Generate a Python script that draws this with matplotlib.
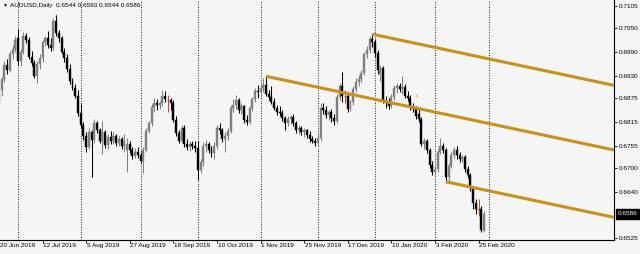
import numpy as np
import pandas as pd
import matplotlib
matplotlib.use('Agg')
import matplotlib.pyplot as plt
from matplotlib.patches import Rectangle

plt.rcParams['font.family'] = ['Liberation Sans', 'DejaVu Sans']

symbol = 'AUDUSD,Daily'
first_day = '2019-06-20'
closed_days = ['2019-12-25', '2020-01-01']

# daily OHLC, one value per trading day from 20 Jun 2019 to 27 Feb 2020
opens = [
    0.6855, 0.6895, 0.6922, 0.6958, 0.6945, 0.6985, 0.6998, 0.7025, 0.6968, 0.6990,
    0.7030, 0.7020, 0.6978, 0.6962, 0.6930, 0.6960, 0.6975, 0.7015, 0.7025, 0.7008,
    0.7000, 0.7068, 0.7038, 0.7025, 0.6990, 0.6975, 0.6948, 0.6918, 0.6900, 0.6880,
    0.6838, 0.6808, 0.6780, 0.6752, 0.6790, 0.6770, 0.6812, 0.6795, 0.6768, 0.6790,
    0.6758, 0.6778, 0.6768, 0.6780, 0.6762, 0.6772, 0.6755, 0.6745, 0.6760, 0.6745,
    0.6730, 0.6740, 0.6732, 0.6718, 0.6745, 0.6792, 0.6812, 0.6852, 0.6862, 0.6858,
    0.6862, 0.6880, 0.6870, 0.6870, 0.6862, 0.6820, 0.6788, 0.6768, 0.6800, 0.6760,
    0.6752, 0.6760, 0.6755, 0.6750, 0.6695, 0.6715, 0.6755, 0.6760, 0.6745, 0.6738,
    0.6755, 0.6800, 0.6795, 0.6772, 0.6780, 0.6792, 0.6850, 0.6858, 0.6870, 0.6845,
    0.6855, 0.6820, 0.6815, 0.6850, 0.6872, 0.6892, 0.6890, 0.6900, 0.6908, 0.6885,
    0.6878, 0.6865, 0.6850, 0.6840, 0.6838, 0.6825, 0.6812, 0.6822, 0.6828, 0.6812,
    0.6795, 0.6800, 0.6790, 0.6795, 0.6782, 0.6772, 0.6768, 0.6762, 0.6775, 0.6850,
    0.6845, 0.6832, 0.6840, 0.6825, 0.6818, 0.6878, 0.6905, 0.6880, 0.6880, 0.6848,
    0.6865, 0.6898, 0.6915, 0.6922, 0.6938, 0.6985, 0.6995, 0.7022, 0.7015, 0.6988,
    0.6935, 0.6950, 0.6868, 0.6862, 0.6855, 0.6878, 0.6900, 0.6905, 0.6898, 0.6902,
    0.6880, 0.6875, 0.6852, 0.6848, 0.6835, 0.6822, 0.6760, 0.6768, 0.6745, 0.6708,
    0.6690, 0.6698, 0.6740, 0.6755, 0.6745, 0.6678, 0.6705, 0.6732, 0.6745, 0.6732,
    0.6722, 0.6728, 0.6698, 0.6682, 0.6650, 0.6612, 0.6597, 0.6597, 0.6544,
]
highs = [
    0.6905, 0.6928, 0.6968, 0.6972, 0.6992, 0.7008, 0.7030, 0.7048, 0.6998, 0.7040,
    0.7038, 0.7028, 0.6992, 0.6970, 0.6968, 0.6985, 0.7020, 0.7030, 0.7042, 0.7025,
    0.7075, 0.7082, 0.7045, 0.7030, 0.7000, 0.6985, 0.6960, 0.6925, 0.6910, 0.6895,
    0.6860, 0.6815, 0.6790, 0.6800, 0.6795, 0.6822, 0.6818, 0.6800, 0.6818, 0.6795,
    0.6785, 0.6792, 0.6790, 0.6785, 0.6780, 0.6778, 0.6785, 0.6775, 0.6768, 0.6752,
    0.6750, 0.6752, 0.6740, 0.6752, 0.6800, 0.6818, 0.6860, 0.6875, 0.6872, 0.6868,
    0.6895, 0.6892, 0.6882, 0.6875, 0.6870, 0.6830, 0.6795, 0.6808, 0.6808, 0.6772,
    0.6768, 0.6768, 0.6768, 0.6768, 0.6722, 0.6765, 0.6770, 0.6765, 0.6755, 0.6765,
    0.6808, 0.6812, 0.6800, 0.6790, 0.6800, 0.6858, 0.6872, 0.6882, 0.6875, 0.6862,
    0.6858, 0.6832, 0.6855, 0.6878, 0.6900, 0.6908, 0.6915, 0.6925, 0.6929, 0.6895,
    0.6905, 0.6875, 0.6858, 0.6855, 0.6845, 0.6830, 0.6830, 0.6832, 0.6835, 0.6818,
    0.6808, 0.6805, 0.6800, 0.6798, 0.6792, 0.6780, 0.6775, 0.6785, 0.6862, 0.6862,
    0.6855, 0.6845, 0.6848, 0.6835, 0.6885, 0.6912, 0.6939, 0.6895, 0.6885, 0.6870,
    0.6905, 0.6925, 0.6932, 0.6945, 0.6990, 0.7005, 0.7030, 0.7034, 0.7022, 0.6995,
    0.6958, 0.6955, 0.6880, 0.6875, 0.6885, 0.6908, 0.6912, 0.6912, 0.6930, 0.6910,
    0.6892, 0.6882, 0.6862, 0.6855, 0.6848, 0.6828, 0.6775, 0.6772, 0.6750, 0.6718,
    0.6705, 0.6748, 0.6775, 0.6762, 0.6750, 0.6712, 0.6740, 0.6752, 0.6755, 0.6740,
    0.6732, 0.6732, 0.6705, 0.6688, 0.6655, 0.6622, 0.6622, 0.6605, 0.6593,
]
lows = [
    0.6845, 0.6880, 0.6915, 0.6935, 0.6940, 0.6972, 0.6990, 0.6958, 0.6955, 0.6985,
    0.7012, 0.6972, 0.6955, 0.6925, 0.6912, 0.6948, 0.6965, 0.7005, 0.7000, 0.6992,
    0.6995, 0.7030, 0.7015, 0.6985, 0.6965, 0.6940, 0.6910, 0.6895, 0.6875, 0.6830,
    0.6800, 0.6770, 0.6740, 0.6748, 0.6677, 0.6762, 0.6788, 0.6762, 0.6735, 0.6750,
    0.6748, 0.6760, 0.6760, 0.6755, 0.6755, 0.6748, 0.6740, 0.6690, 0.6738, 0.6722,
    0.6725, 0.6725, 0.6712, 0.6688, 0.6740, 0.6788, 0.6805, 0.6840, 0.6845, 0.6848,
    0.6855, 0.6865, 0.6840, 0.6845, 0.6815, 0.6780, 0.6762, 0.6765, 0.6752, 0.6745,
    0.6742, 0.6748, 0.6740, 0.6670, 0.6688, 0.6705, 0.6740, 0.6738, 0.6728, 0.6722,
    0.6748, 0.6785, 0.6765, 0.6740, 0.6770, 0.6788, 0.6840, 0.6848, 0.6838, 0.6835,
    0.6812, 0.6808, 0.6810, 0.6842, 0.6865, 0.6875, 0.6880, 0.6890, 0.6880, 0.6870,
    0.6860, 0.6845, 0.6832, 0.6830, 0.6818, 0.6795, 0.6805, 0.6810, 0.6805, 0.6788,
    0.6785, 0.6782, 0.6778, 0.6775, 0.6765, 0.6762, 0.6755, 0.6755, 0.6768, 0.6835,
    0.6825, 0.6820, 0.6815, 0.6808, 0.6812, 0.6870, 0.6865, 0.6862, 0.6840, 0.6842,
    0.6858, 0.6890, 0.6905, 0.6915, 0.6932, 0.6975, 0.6988, 0.7002, 0.6978, 0.6935,
    0.6918, 0.6862, 0.6850, 0.6848, 0.6850, 0.6870, 0.6888, 0.6890, 0.6885, 0.6875,
    0.6868, 0.6845, 0.6840, 0.6822, 0.6815, 0.6755, 0.6748, 0.6738, 0.6700, 0.6682,
    0.6682, 0.6690, 0.6735, 0.6738, 0.6662, 0.6668, 0.6700, 0.6725, 0.6722, 0.6715,
    0.6715, 0.6690, 0.6675, 0.6642, 0.6598, 0.6585, 0.6580, 0.6540, 0.6544,
]
closes = [
    0.6895, 0.6922, 0.6958, 0.6945, 0.6985, 0.6998, 0.7020, 0.6968, 0.6990, 0.7030,
    0.7020, 0.6978, 0.6962, 0.6930, 0.6960, 0.6975, 0.7015, 0.7025, 0.7008, 0.7000,
    0.7068, 0.7038, 0.7025, 0.6990, 0.6975, 0.6948, 0.6918, 0.6900, 0.6880, 0.6838,
    0.6808, 0.6780, 0.6752, 0.6790, 0.6770, 0.6812, 0.6795, 0.6768, 0.6790, 0.6758,
    0.6778, 0.6768, 0.6780, 0.6762, 0.6772, 0.6755, 0.6768, 0.6760, 0.6745, 0.6730,
    0.6740, 0.6732, 0.6718, 0.6745, 0.6792, 0.6812, 0.6852, 0.6862, 0.6858, 0.6862,
    0.6880, 0.6872, 0.6870, 0.6862, 0.6820, 0.6788, 0.6768, 0.6800, 0.6760, 0.6752,
    0.6760, 0.6755, 0.6750, 0.6695, 0.6715, 0.6755, 0.6760, 0.6745, 0.6738, 0.6755,
    0.6800, 0.6795, 0.6772, 0.6780, 0.6792, 0.6850, 0.6858, 0.6870, 0.6845, 0.6855,
    0.6820, 0.6815, 0.6850, 0.6872, 0.6892, 0.6890, 0.6900, 0.6908, 0.6885, 0.6878,
    0.6865, 0.6850, 0.6840, 0.6838, 0.6825, 0.6812, 0.6822, 0.6828, 0.6812, 0.6795,
    0.6800, 0.6790, 0.6795, 0.6782, 0.6772, 0.6768, 0.6762, 0.6775, 0.6850, 0.6845,
    0.6832, 0.6840, 0.6825, 0.6818, 0.6878, 0.6905, 0.6880, 0.6880, 0.6848, 0.6865,
    0.6898, 0.6915, 0.6922, 0.6938, 0.6985, 0.6995, 0.7022, 0.7015, 0.6988, 0.6945,
    0.6950, 0.6868, 0.6862, 0.6855, 0.6878, 0.6900, 0.6905, 0.6898, 0.6902, 0.6880,
    0.6875, 0.6852, 0.6848, 0.6830, 0.6822, 0.6760, 0.6768, 0.6745, 0.6708, 0.6690,
    0.6698, 0.6740, 0.6755, 0.6745, 0.6678, 0.6705, 0.6732, 0.6745, 0.6732, 0.6722,
    0.6728, 0.6698, 0.6682, 0.6650, 0.6612, 0.6597, 0.6597, 0.6546, 0.6586,
]

price_ticks = [0.7105, 0.7050, 0.6990, 0.6930, 0.6875, 0.6815, 0.6755, 0.6700, 0.6640, 0.6525]

# parallel trend lines: anchor day, anchor price; common slope in price per bar
channel_anchors = [('2019-12-31', 0.7034), ('2019-11-05', 0.6929), ('2020-02-07', 0.6666)]
channel_slope = -0.000144

# small arrow marks left on the chart
marks = [('2019-07-19', 0.7082, '#d020d0'), ('2020-01-23', 0.6882, '#f0a030')]

BG = '#f5f5f5'
BULL = '#808080'
BEAR = '#000000'
DOJI = '#d04040'
GOLD = '#c8901c'
FS = 4.6

n = len(closes)
cal = pd.bdate_range(first_day, periods=n + 60)
cal = cal[~cal.isin(pd.to_datetime(closed_days))]

fig = plt.figure(figsize=(6.4, 2.54), dpi=100, facecolor=BG)
ax = fig.add_axes([0, 14 / 254, 613.5 / 640, 240 / 254])
ax.set_facecolor(BG)
ax.set_xlim(0.40, 225.5)
ax.set_ylim(0.65207, 0.71192)

# month separators, up to the first one after the last bar
months = cal.month
for i in range(1, len(cal)):
    if months[i] != months[i - 1]:
        ax.axvline(i, color='#202020', lw=0.7, ls=(0, (1, 1.6)), zorder=1)
        if i >= n:
            break

# candles
for i in range(n):
    o, h, l, c = opens[i], highs[i], lows[i], closes[i]
    col = BULL if c > o else (BEAR if c < o else DOJI)
    ax.vlines(i, l, h, color=col, lw=0.75, zorder=3)
    if c == o:
        ax.hlines(o, i - 0.4, i + 0.4, color=col, lw=0.75, zorder=3)
    else:
        ax.add_patch(Rectangle((i - 0.36, min(o, c)), 0.72, abs(c - o),
                               fc=col, ec=col, lw=0.3, zorder=3))

for d, p, col in marks:
    i = cal.get_loc(pd.Timestamp(d))
    ax.plot(i, p, marker='^', ms=1.8, color=col, mew=0, zorder=5)

# trend channel
for d, p0 in channel_anchors:
    i0 = cal.get_loc(pd.Timestamp(d))
    xs = np.array([i0, 230])
    ax.plot(xs, p0 + channel_slope * (xs - i0), color=GOLD, lw=2.2,
            solid_capstyle='butt', zorder=4)

# axes look
for s in ['top', 'left']:
    ax.spines[s].set_visible(False)
for s in ['right', 'bottom']:
    ax.spines[s].set_color('black')
    ax.spines[s].set_linewidth(0.8)

ax.yaxis.tick_right()
ax.set_yticks(price_ticks)
ax.set_yticklabels(['%.4f' % v for v in price_ticks])
ax.tick_params(axis='y', direction='out', length=2.5, width=0.6, pad=1.5,
               labelsize=FS, colors='black')

label_idx = list(range(0, n, 16))
ax.set_xticks([i for i in label_idx if i > 0])
ax.tick_params(axis='x', direction='out', length=2.0, width=0.6, labelbottom=False)
for i in label_idx:
    d = cal[i]
    ax.annotate('%d %s' % (d.day, d.strftime('%b %Y')), xy=(i, 0),
                xycoords=('data', 'axes fraction'), xytext=(0.5, -2.2),
                textcoords='offset points', ha='left', va='top',
                fontsize=FS, annotation_clip=False)

# current price tag
ax.annotate('%.4f' % closes[-1], xy=(1, closes[-1]),
            xycoords=('axes fraction', 'data'), xytext=(3.4, 0),
            textcoords='offset points', ha='left', va='center', fontsize=FS,
            color='white', annotation_clip=False,
            bbox=dict(boxstyle='square,pad=0.35', fc='black', ec='black'))

# header line
fig.text(2 / 640, 1 - 5 / 254, '\u25bc', fontsize=3.5, va='center', ha='left')
fig.text(10 / 640, 1 - 5 / 254,
         '%s  %.4f %.4f %.4f %.4f' % (symbol, opens[-1], highs[-1], lows[-1], closes[-1]),
         fontsize=FS, va='center', ha='left')

fig.savefig('out.png', dpi=100, facecolor=BG)
